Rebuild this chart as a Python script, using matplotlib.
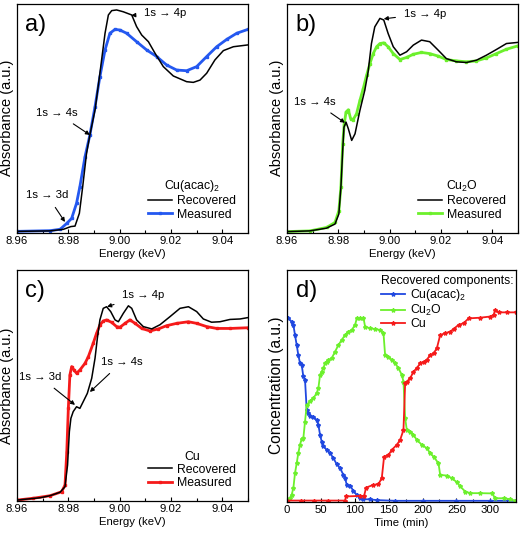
import matplotlib
matplotlib.use("Agg")
import matplotlib.pyplot as plt
from matplotlib.ticker import MultipleLocator
from matplotlib import font_manager

try:
    font_manager.findfont('Liberation Sans Narrow', fallback_to_default=False)
    NARROW = True
except Exception:
    NARROW = False

if NARROW:
    FAM = ['Liberation Sans Narrow', 'Liberation Sans', 'DejaVu Sans']
    K = 1.2
else:
    FAM = ['Liberation Sans', 'DejaVu Sans']
    K = 1.0

plt.rcParams['font.family'] = FAM
plt.rcParams['mathtext.fontset'] = 'custom'
plt.rcParams['mathtext.rm'] = FAM[0]
plt.rcParams['mathtext.it'] = FAM[0] + ':italic'

# ---------------- data ----------------
# Panel a: Cu(acac)2
a_rec_E = [8.96, 8.9729, 8.9781, 8.9810, 8.9826, 8.9843, 8.9856, 8.9871, 8.9884, 8.9904, 8.9923, 8.9943,
           8.9956, 8.9969, 8.9988, 9.0014, 9.0047, 9.0066, 9.0086, 9.0112, 9.0138, 9.0170, 9.0209, 9.0261,
           9.0287, 9.0313, 9.0339, 9.0371, 9.0404, 9.0443, 9.05]
a_rec_A = [0.005, 0.007, 0.014, 0.026, 0.028, 0.084, 0.201, 0.347, 0.427, 0.536, 0.697, 0.872,
           0.952, 0.971, 0.974, 0.966, 0.952, 0.901, 0.864, 0.835, 0.784, 0.726, 0.685, 0.660,
           0.657, 0.667, 0.697, 0.755, 0.796, 0.813, 0.821]
a_mea_E = [8.96, 8.9729, 8.9768, 8.9794, 8.9813, 8.9832, 8.9845, 8.9865, 8.9884, 8.9904, 8.9923, 8.9943,
           8.9962, 8.9982, 9.0001, 9.0027, 9.0066, 9.0105, 9.0144, 9.0183, 9.0222, 9.0261, 9.0300,
           9.0339, 9.0378, 9.0417, 9.0456, 9.05]
a_mea_A = [0.005, 0.008, 0.014, 0.040, 0.062, 0.128, 0.201, 0.332, 0.427, 0.551, 0.682, 0.799,
           0.872, 0.889, 0.886, 0.872, 0.835, 0.799, 0.770, 0.733, 0.711, 0.708, 0.726,
           0.770, 0.813, 0.845, 0.872, 0.889]

# Panel b: Cu2O
b_rec_E = [8.96, 8.9689, 8.9754, 8.9787, 8.9802, 8.9810, 8.9817, 8.9822, 8.9830, 8.9839, 8.9852, 8.9865,
           8.9884, 8.9903, 8.9916, 8.9929, 8.9942, 8.9962, 8.9977, 8.9994, 9.0014, 9.0040, 9.0066,
           9.0092, 9.0124, 9.0156, 9.0189, 9.0221, 9.0260, 9.0299, 9.0338, 9.0377, 9.0416, 9.0455, 9.05]
b_rec_A = [0.004, 0.007, 0.019, 0.037, 0.081, 0.198, 0.359, 0.461, 0.483, 0.454, 0.403, 0.432,
           0.534, 0.622, 0.703, 0.827, 0.900, 0.937, 0.930, 0.871, 0.813, 0.776, 0.791,
           0.820, 0.842, 0.835, 0.798, 0.761, 0.747, 0.744, 0.754, 0.776, 0.801, 0.827, 0.832]
b_mea_E = [8.96, 8.9689, 8.9754, 8.9787, 8.9802, 8.9810, 8.9817, 8.9823, 8.9830, 8.9839, 8.9848, 8.9858,
           8.9871, 8.9884, 8.9897, 8.9910, 8.9923, 8.9936, 8.9949, 8.9962, 8.9977, 8.9994, 9.0014,
           9.0040, 9.0066, 9.0092, 9.0124, 9.0156, 9.0189, 9.0221, 9.0260, 9.0299, 9.0338, 9.0377,
           9.0416, 9.0455, 9.05]
b_mea_A = [0.004, 0.007, 0.022, 0.044, 0.095, 0.198, 0.388, 0.476, 0.527, 0.537, 0.498, 0.494,
           0.520, 0.578, 0.630, 0.688, 0.739, 0.783, 0.813, 0.827, 0.830, 0.813, 0.783,
           0.757, 0.766, 0.780, 0.788, 0.783, 0.772, 0.757, 0.751, 0.747, 0.751, 0.764,
           0.783, 0.802, 0.817]

# Panel c: Cu
c_rec_E = [8.96, 8.9690, 8.9729, 8.9768, 8.9787, 8.9797, 8.9804, 8.9810, 8.9819, 8.9832, 8.9845, 8.9858,
           8.9874, 8.9891, 8.9904, 8.9913, 8.9923, 8.9936, 8.9949, 8.9965, 8.9982, 8.9995, 9.0014,
           9.0034, 9.0047, 9.0066, 9.0092, 9.0125, 9.0157, 9.0196, 9.0235, 9.0268, 9.0300, 9.0326,
           9.0358, 9.0391, 9.0430, 9.0469, 9.05]
c_rec_A = [0.004, 0.014, 0.023, 0.038, 0.062, 0.156, 0.300, 0.358, 0.387, 0.408, 0.401, 0.430,
           0.466, 0.531, 0.618, 0.704, 0.784, 0.834, 0.841, 0.820, 0.784, 0.776, 0.812,
           0.845, 0.834, 0.784, 0.755, 0.745, 0.763, 0.798, 0.834, 0.841, 0.820, 0.788,
           0.774, 0.776, 0.786, 0.788, 0.794]
c_mea_E = [8.96, 8.9664, 8.9729, 8.9774, 8.9787, 8.9794, 8.9800, 8.9806, 8.9813, 8.9822, 8.9832, 8.9845,
           8.9865, 8.9878, 8.9897, 8.9910, 8.9923, 8.9936, 8.9949, 8.9969, 8.9988, 9.0001, 9.0021,
           9.0040, 9.0060, 9.0086, 9.0118, 9.0151, 9.0183, 9.0222, 9.0268, 9.0300, 9.0339, 9.0378,
           9.0430, 9.05]
c_mea_A = [0.004, 0.012, 0.023, 0.040, 0.069, 0.214, 0.401, 0.545, 0.582, 0.567, 0.553, 0.567,
           0.596, 0.625, 0.683, 0.726, 0.762, 0.779, 0.784, 0.773, 0.755, 0.752, 0.769,
           0.784, 0.769, 0.747, 0.736, 0.745, 0.759, 0.769, 0.776, 0.769, 0.755, 0.747,
           0.747, 0.750]

# Panel d: recovered concentrations vs time
d_acac_t = [2.0, 6.9, 9.4, 11.8, 14.3, 16.7, 19.2, 21.7, 24.1, 26.6, 29.1, 31.5, 34.0, 38.9, 43.8, 46.3,
            48.8, 51.2, 53.7, 58.6, 63.5, 68.5, 73.4, 78.3, 83.3, 85.7, 88.2, 93.1, 98.0, 103.0, 108.0,
            112.8, 122.7, 132.5, 160.0, 200.0, 250.0, 300.0, 337.0]
d_acac_c = [0.791, 0.777, 0.763, 0.719, 0.676, 0.633, 0.597, 0.590, 0.540, 0.525, 0.396, 0.381, 0.371,
            0.363, 0.353, 0.331, 0.288, 0.259, 0.240, 0.223, 0.209, 0.187, 0.161, 0.144, 0.115, 0.101,
            0.072, 0.068, 0.046, 0.029, 0.014, 0.010, 0.009, 0.006, 0.003, 0.003, 0.003, 0.003, 0.003]
d_cu2o_t = [2.0, 4.4, 6.9, 9.4, 11.8, 14.3, 16.7, 19.2, 21.7, 24.1, 26.6, 29.1, 34.0, 38.9, 43.8, 46.3,
            48.8, 51.2, 53.7, 56.2, 58.6, 61.1, 66.0, 70.9, 75.9, 80.8, 85.7, 90.6, 95.6, 100.5, 103.0,
            107.9, 112.8, 115.3, 122.7, 130.0, 137.4, 142.4, 144.8, 149.8, 154.7, 159.6, 164.5, 169.5,
            171.9, 174.4, 176.8, 181.8, 186.7, 191.6, 199.0, 206.4, 211.3, 216.3, 223.6, 226.1, 236.0,
            243.3, 250.7, 255.7, 263.1, 270.4, 285.2, 302.5, 307.4, 319.7, 329.6, 337.0]
d_cu2o_c = [0.007, 0.014, 0.029, 0.058, 0.122, 0.165, 0.209, 0.245, 0.271, 0.273, 0.345, 0.417, 0.432,
            0.446, 0.468, 0.489, 0.547, 0.561, 0.576, 0.597, 0.604, 0.612, 0.619, 0.647, 0.676, 0.698,
            0.719, 0.734, 0.741, 0.763, 0.791, 0.791, 0.794, 0.755, 0.748, 0.745, 0.741, 0.727, 0.633,
            0.626, 0.612, 0.597, 0.576, 0.547, 0.518, 0.360, 0.309, 0.302, 0.288, 0.266, 0.245, 0.230,
            0.209, 0.194, 0.165, 0.115, 0.112, 0.101, 0.083, 0.065, 0.043, 0.036, 0.036, 0.035, 0.014,
            0.014, 0.010, 0.003]
d_cu_t = [0.0, 20.0, 40.0, 60.0, 85.7, 87.2, 107.9, 113.8, 116.7, 127.6, 135.0, 139.9, 143.3, 149.8,
          154.7, 162.1, 167.0, 171.9, 174.4, 176.8, 181.8, 186.7, 191.6, 196.6, 201.5, 206.4, 211.3,
          216.3, 221.2, 226.1, 233.5, 240.9, 245.8, 253.2, 260.6, 268.0, 285.2, 300.0, 304.9, 307.4,
          312.3, 324.6, 338.0]
d_cu_c = [0.004, 0.004, 0.004, 0.004, 0.004, 0.022, 0.024, 0.024, 0.060, 0.072, 0.075, 0.101, 0.194,
          0.201, 0.223, 0.245, 0.266, 0.309, 0.511, 0.518, 0.532, 0.561, 0.576, 0.597, 0.604, 0.612,
          0.633, 0.640, 0.662, 0.719, 0.727, 0.734, 0.745, 0.763, 0.770, 0.791, 0.794, 0.799, 0.806,
          0.827, 0.817, 0.817, 0.817]

energy_ticks = [8.96, 8.98, 9.00, 9.02, 9.04]
time_ticks = [0, 50, 100, 150, 200, 250, 300]

BLUE = '#2458f0'
GREEN = '#6cf02c'
RED = '#f51a1a'
DBLUE = '#2048e0'

W, H = 520, 535
fig = plt.figure(figsize=(W / 100, H / 100), dpi=100)


def axpos(l, r, t, b):
    return [l / W, 1 - b / H, (r - l) / W, (b - t) / H]


axA = fig.add_axes(axpos(17, 248, 4, 232.5))
axB = fig.add_axes(axpos(287, 518, 4, 232.5))
axC = fig.add_axes(axpos(17, 248, 270, 501))
axD = fig.add_axes(axpos(287, 516, 270, 501.5))

FS = 8.2 * K          # tick labels, axis x-labels, annotations
LFS = 8.8 * K         # legend text
YL_FAM = ['Liberation Sans', 'DejaVu Sans']


def style_common(ax):
    ax.set_yticks([])
    ax.tick_params(axis='x', which='both', direction='in', length=3, width=0.8, pad=2.5)
    ax.tick_params(axis='x', which='minor', length=2)
    for s in ax.spines.values():
        s.set_linewidth(0.9)


def style_energy(ax):
    ax.set_xlim(8.96, 9.05)
    ax.set_ylim(0, 1)
    ax.set_xticks(energy_ticks)
    ax.set_xticklabels(['%.2f' % v for v in energy_ticks], fontsize=FS)
    ax.xaxis.set_minor_locator(MultipleLocator(0.01))
    style_common(ax)
    ax.set_xlabel('Energy (keV)', fontsize=FS, labelpad=2)
    ax.set_ylabel('Absorbance (a.u.)', fontsize=10.5, family=YL_FAM, labelpad=2)


def note(ax, text, xytext, xy):
    ax.annotate(text, xy=xy, xytext=xytext, fontsize=FS, ha='center', va='center',
                arrowprops=dict(arrowstyle='-|>', color='black', lw=0.8,
                                mutation_scale=6, shrinkA=4, shrinkB=0))


def spectra(ax, rE, rA, mE, mA, color, title, label):
    ax.plot(mE, mA, color=color, lw=2.0, marker='s', ms=2.0, mec=color, label='Measured', zorder=2)
    ax.plot(rE, rA, color='black', lw=1.1, label='Recovered', zorder=3)
    style_energy(ax)
    h, l = ax.get_legend_handles_labels()
    ax.legend([h[1], h[0]], [l[1], l[0]], title=title, loc='lower right',
              bbox_to_anchor=(0.985, 0.015), frameon=False, fontsize=LFS,
              title_fontsize=LFS, handlelength=2.0, handletextpad=0.4,
              labelspacing=0.1, borderpad=0.2)
    ax.text(0.035, 0.955, label, transform=ax.transAxes, fontsize=17, va='top', ha='left',
            family=YL_FAM)


spectra(axA, a_rec_E, a_rec_A, a_mea_E, a_mea_A, BLUE, 'Cu(acac)$_2$', 'a)')
note(axA, '1s → 4p', (9.0177, 0.960), (9.0045, 0.950))
note(axA, '1s → 4s', (8.9756, 0.523), (8.9884, 0.427))
note(axA, '1s → 3d', (8.9717, 0.164), (8.9787, 0.046))

spectra(axB, b_rec_E, b_rec_A, b_mea_E, b_mea_A, GREEN, 'Cu$_2$O', 'b)')
note(axB, '1s → 4p', (9.0137, 0.957), (8.9977, 0.935))
note(axB, '1s → 4s', (8.9709, 0.571), (8.9826, 0.480))

spectra(axC, c_rec_E, c_rec_A, c_mea_E, c_mea_A, RED, 'Cu', 'c)')
note(axC, '1s → 4p', (9.0091, 0.892), (8.9951, 0.841))
note(axC, '1s → 4s', (9.0009, 0.602), (8.9884, 0.472))
note(axC, '1s → 3d', (8.9690, 0.537), (8.9826, 0.416))

# Panel d
axD.plot(d_acac_t, d_acac_c, color=DBLUE, lw=1.3, marker='*', ms=3, label='Cu(acac)$_2$')
axD.plot(d_cu2o_t, d_cu2o_c, color=GREEN, lw=1.3, marker='*', ms=3, label='Cu$_2$O')
axD.plot(d_cu_t, d_cu_c, color=RED, lw=1.3, marker='*', ms=3, label='Cu')
axD.set_xlim(0, 338)
axD.set_ylim(0, 1)
axD.set_xticks(time_ticks)
axD.set_xticklabels([str(v) for v in time_ticks], fontsize=FS)
axD.xaxis.set_minor_locator(MultipleLocator(25))
style_common(axD)
axD.set_xlabel('Time (min)', fontsize=FS, labelpad=2)
axD.set_ylabel('Concentration (a.u.)', fontsize=11.2, family=YL_FAM, labelpad=2)
legD = axD.legend(title='Recovered components:', loc='upper right', bbox_to_anchor=(1.025, 1.015),
                  frameon=False, fontsize=LFS, title_fontsize=LFS, handlelength=2.0,
                  handletextpad=0.4, labelspacing=0.0, borderpad=0.2)
legD._legend_box.align = 'left'
axD.text(0.04, 0.955, 'd)', transform=axD.transAxes, fontsize=17, va='top', ha='left',
         family=YL_FAM)

fig.savefig('out.png', dpi=100)
